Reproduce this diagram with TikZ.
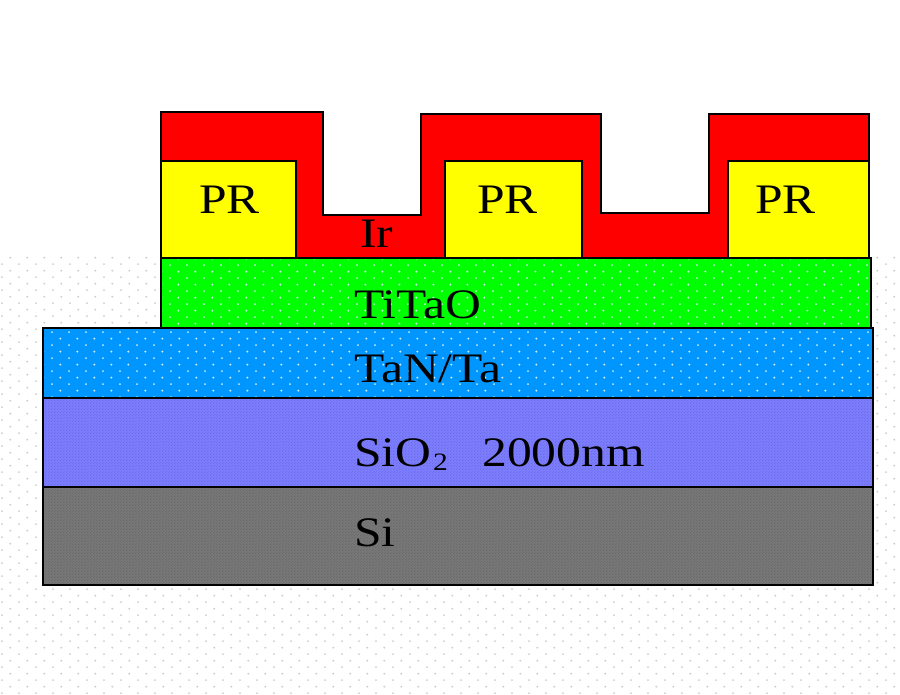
\documentclass[tikz,border=0pt]{standalone}
\usepackage{fontspec}
\usetikzlibrary{patterns}
\setmainfont{Liberation Serif}
\definecolor{irred}{RGB}{255,0,0}
\definecolor{pryellow}{RGB}{255,255,0}
\definecolor{tigreen}{RGB}{0,255,0}
\definecolor{tanblue}{RGB}{0,150,255}
\definecolor{sipurple}{RGB}{124,124,255}
\definecolor{sigrey}{RGB}{119,119,119}
\definecolor{dotgrey}{RGB}{205,205,205}
\definecolor{dotlight}{RGB}{205,235,235}
\pgfdeclarepatternformonly{sparsedots}{\pgfqpoint{0pt}{0pt}}{\pgfqpoint{16.85pt}{13.44pt}}{\pgfqpoint{16.85pt}{13.44pt}}{%
  \pgfpathcircle{\pgfqpoint{2pt}{3pt}}{1.1pt}%
  \pgfpathcircle{\pgfqpoint{10.42pt}{9.72pt}}{1.1pt}%
  \pgfusepath{fill}%
}
\pgfdeclarepatternformonly{finedots}{\pgfqpoint{0pt}{0pt}}{\pgfqpoint{3pt}{3pt}}{\pgfqpoint{3pt}{3pt}}{%
  \pgfpathcircle{\pgfqpoint{0.75pt}{0.75pt}}{0.5pt}%
  \pgfpathcircle{\pgfqpoint{2.25pt}{2.25pt}}{0.5pt}%
  \pgfusepath{fill}%
}
\tikzset{
  layer/.style={draw=black,line width=2.1pt,line join=miter},
  lbl/.style={font=\fontsize{42}{50}\selectfont,anchor=base west,inner sep=0pt,xscale=1.18,text=black},
}
\begin{document}
\begin{tikzpicture}[x=1pt,y=-1pt]
\useasboundingbox (0,0) rectangle (900,695);
\fill[white] (0,0) rectangle (900,695);
% background dots
\fill[pattern=sparsedots,pattern color=dotgrey] (0,257) rectangle (900,695);
% Ir layer
\draw[layer,fill=irred] (161,112) -- (323,112) -- (323,215) -- (421,215) -- (421,114) -- (601,114) -- (601,213) -- (709,213) -- (709,114) -- (869,114) -- (869,258) -- (161,258) -- cycle;
% photoresist
\draw[layer,fill=pryellow] (161,161) rectangle (296,258);
\draw[layer,fill=pryellow] (445,161) rectangle (582,258);
\draw[layer,fill=pryellow] (728,161) rectangle (869,258);
% dotted layers
\draw[layer,fill=tigreen] (161,258) rectangle (871,328);
\fill[pattern=sparsedots,pattern color=dotlight] (162,259) rectangle (870,327);
\draw[layer] (161,258) rectangle (871,328);
\draw[layer,fill=tanblue] (43,328) rectangle (873,398);
\fill[pattern=sparsedots,pattern color=dotlight] (44,329) rectangle (872,397);
\draw[layer] (43,328) rectangle (873,398);
\draw[layer,fill=sipurple] (43,398) rectangle (873,487);
\fill[pattern=finedots,pattern color=sipurple!80!black] (44,399) rectangle (872,486);
\draw[layer,fill=sigrey] (43,487) rectangle (873,585);
\fill[pattern=finedots,pattern color=sigrey!80!black] (44,488) rectangle (872,584);
% labels
\node[lbl] (pra) at (199,214) {PR};
\node[lbl] (prb) at (477,214) {PR};
\node[lbl] (prc) at (755,214) {PR};
\node[lbl] (ir) at (360,248) {Ir};
\node[lbl] (titao) at (354,318) {TiTaO};
\node[lbl] (tan) at (354,382) {TaN/Ta};
\node[lbl] (sio) at (354,466) {SiO};
\node[lbl,font=\fontsize{25}{30}\selectfont] (two) at (433,470) {2};
\node[lbl] (thick) at (482,466) {2000nm};
\node[lbl] (si) at (354,546) {Si};
\end{tikzpicture}
\end{document}
